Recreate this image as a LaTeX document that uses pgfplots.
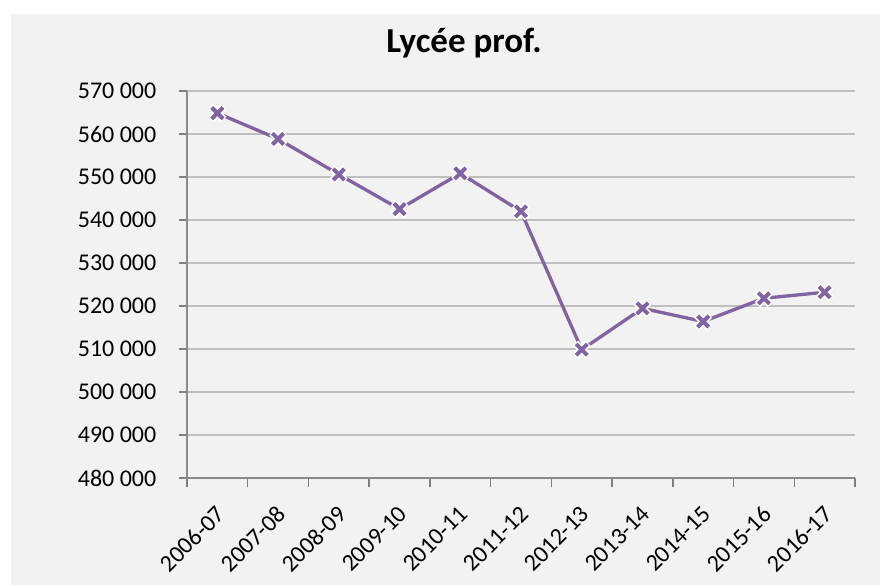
\documentclass[border=0pt]{standalone}
\usepackage{pgfplots}
\pgfplotsset{compat=1.18}
\usepackage{fontspec}
\setmainfont{Carlito}
\definecolor{bg}{HTML}{F2F2F2}
\definecolor{grid}{HTML}{8A8A8A}
\definecolor{purp}{HTML}{8064A2}
\pgfplotstableread{
x y
0 564850
1 558850
2 550600
3 542550
4 550850
5 542000
6 509850
7 519450
8 516400
9 521800
10 523200
}\datatable
\begin{document}
\begin{tikzpicture}
\useasboundingbox (0,0) rectangle (880pt,-585pt);
\fill[white] (0,0) rectangle (880pt,-585pt);
\fill[bg] (11pt,-14pt) rectangle (880pt,-585pt);
\node[anchor=base, font=\fontsize{35}{35}\selectfont\bfseries] at (464pt,-53pt) {Lycée prof.};
\begin{axis}[
  at={(187pt,-478pt)}, anchor=south west,
  scale only axis, width=668pt, height=387pt,
  xmin=-0.5, xmax=10.5, ymin=480000, ymax=570000,
  axis line style={grid, line width=1.5pt},
  axis x line*=bottom, axis y line*=left,
  ymajorgrids, xmajorgrids=false, grid style={grid, line width=1.5pt},
  scaled y ticks=false,
  ytick={480000,490000,...,570000},
  yticklabels={480 000,490 000,500 000,510 000,520 000,530 000,540 000,550 000,560 000,570 000},
  xtick={-0.5,0.5,...,10.5},
  xticklabels={2006-07,2007-08,2008-09,2009-10,2010-11,2011-12,2012-13,2013-14,2014-15,2015-16,2016-17,{}},
  tick align=outside,
  major tick length=8.5pt,
  tick style={grid, line width=1.5pt},
  yticklabel style={font=\fontsize{24}{24}\selectfont, inner sep=0pt, xshift=-22pt},
  xticklabel style={font=\fontsize{24}{24}\selectfont, xshift=28pt, yshift=-18pt, rotate=45, anchor=north east, inner sep=0pt},
  clip=false,
]
\addplot[purp, line width=3.3pt, mark=none] table[x=x,y=y] {\datatable};
\addplot[white, line width=7.5pt, only marks, mark=x, mark size=9pt] table[x=x,y=y] {\datatable};
\addplot[purp, line width=4pt, only marks, mark=x, mark size=8pt] table[x=x,y=y] {\datatable};
\end{axis}
\end{tikzpicture}
\end{document}
